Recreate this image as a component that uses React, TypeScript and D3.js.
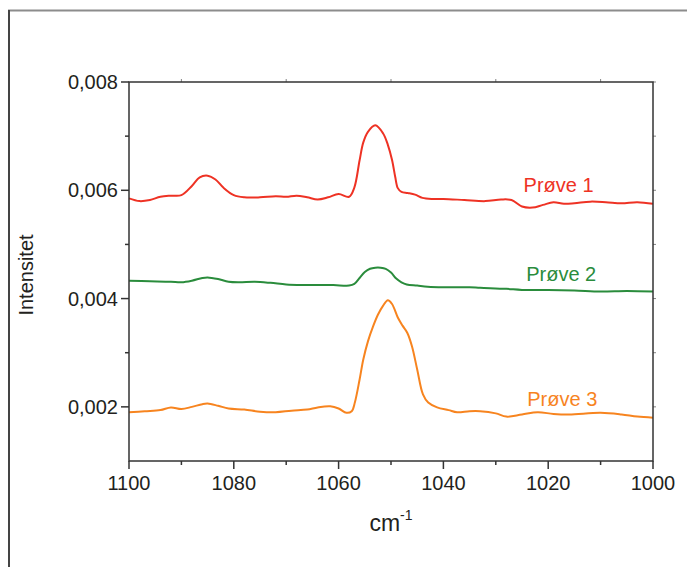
import React from "react";
import * as d3 from "d3";

const xTicks = [1100, 1080, 1060, 1040, 1020, 1000];
const xMinor = [1090, 1070, 1050, 1030, 1010];
const yTicks = [0.002, 0.004, 0.006, 0.008];
const yMinor = [0.003, 0.005, 0.007];
const yTickLabels = ["0,002", "0,004", "0,006", "0,008"];

const seriesNames = ["Prøve 1", "Prøve 2", "Prøve 3"];
const seriesColors = ["#ee3224", "#2a8c3c", "#f7841f"];

const p1Wave = [1100, 1098, 1096, 1094, 1092, 1090, 1088, 1086.5, 1085, 1083.5, 1082, 1080, 1078, 1075, 1072, 1070, 1068, 1066, 1064, 1062, 1060, 1058, 1057, 1056, 1055.3, 1054.4, 1053, 1051.5, 1050.6, 1049.8, 1049.2, 1048.7, 1048, 1046.8, 1045.4, 1044, 1042, 1040, 1036, 1032, 1029, 1027, 1025, 1023, 1021, 1019, 1017, 1015, 1012, 1009, 1006, 1003, 1000];
const p1Vals = [0.00585, 0.0058, 0.00582, 0.00588, 0.0059, 0.00591, 0.00608, 0.00624, 0.00627, 0.0062, 0.00605, 0.00591, 0.00587, 0.00587, 0.00589, 0.00588, 0.0059, 0.00587, 0.00583, 0.00587, 0.00593, 0.00588, 0.00605, 0.00655, 0.00688, 0.00708, 0.0072, 0.00705, 0.00684, 0.00656, 0.00625, 0.00604, 0.00597, 0.00595, 0.00592, 0.00586, 0.00584, 0.00584, 0.00582, 0.0058, 0.00583, 0.00582, 0.0057, 0.00568, 0.00573, 0.00578, 0.00575, 0.00576, 0.00579, 0.00578, 0.00576, 0.00578, 0.00575];

const p2Wave = [1100, 1096, 1092, 1090, 1088, 1086, 1085, 1083, 1081, 1079, 1076, 1073, 1070, 1067, 1064, 1061, 1058, 1057, 1056, 1055, 1054, 1053, 1052, 1051, 1050, 1049, 1048, 1047, 1045, 1043, 1040, 1035, 1033, 1028, 1025, 1020, 1015, 1010, 1005, 1000];
const p2Vals = [0.00433, 0.00432, 0.00431, 0.0043, 0.00433, 0.00438, 0.00439, 0.00436, 0.00431, 0.0043, 0.00431, 0.00429, 0.00426, 0.00425, 0.00425, 0.00425, 0.00424, 0.00427, 0.00438, 0.00449, 0.00455, 0.00457, 0.00457, 0.00455, 0.00448, 0.00437, 0.0043, 0.00426, 0.00424, 0.00422, 0.00421, 0.00421, 0.0042, 0.00418, 0.00416, 0.00416, 0.00415, 0.00413, 0.00414, 0.00413];

const p3Wave = [1100, 1097, 1094, 1092, 1090, 1088, 1086, 1085, 1083, 1081, 1078, 1075, 1072, 1069, 1066, 1064, 1061.6, 1060, 1058.5, 1057.5, 1056.9, 1056, 1055.3, 1054.4, 1053.4, 1052.5, 1051.5, 1050.6, 1049.8, 1048.7, 1047.8, 1046.9, 1046, 1045, 1043.9, 1042.9, 1041.2, 1039, 1037.4, 1035, 1033, 1030, 1028, 1025, 1022, 1019, 1016, 1010, 1006, 1003, 1000];
const p3Vals = [0.0019, 0.00192, 0.00194, 0.00199, 0.00196, 0.002, 0.00205, 0.00206, 0.00202, 0.00197, 0.00195, 0.00191, 0.0019, 0.00193, 0.00195, 0.00199, 0.00201, 0.00197, 0.00189, 0.00192, 0.00208, 0.0025, 0.00287, 0.00321, 0.00349, 0.0037, 0.00387, 0.00397, 0.0039, 0.00365, 0.0035, 0.00337, 0.00312, 0.00269, 0.00223, 0.00208, 0.00199, 0.00194, 0.0019, 0.00192, 0.00192, 0.00188, 0.00182, 0.00186, 0.0019, 0.00187, 0.00186, 0.00189, 0.00186, 0.00182, 0.0018];

const seriesWaves = [p1Wave, p2Wave, p3Wave];
const seriesVals = [p1Vals, p2Vals, p3Vals];
const labelAnchors = [
  { w: 1024.7, v: 0.00597 },
  { w: 1024.2, v: 0.004325 },
  { w: 1024.0, v: 0.002016 },
];

const W = 687;
const H = 567;
const L = 129, R = 653, T = 82, B = 461;
const FONT = "'Liberation Sans', Arial, Helvetica, sans-serif";
const AX = "#333333";
const TXT = "#231f20";

export default function App() {
  const x = d3.scaleLinear().domain([1100, 1000]).range([L, R]);
  const y = d3.scaleLinear().domain([0.001, 0.008]).range([B, T]);
  const line = d3
    .line<[number, number]>()
    .x((d) => x(d[0]))
    .y((d) => y(d[1]))
    .curve(d3.curveCatmullRom.alpha(0.5));

  return (
    <svg
      width={W}
      height={H}
      style={{ position: "absolute", left: 0, top: 0, background: "#fff" }}
      fontFamily={FONT}
    >
      <rect x={0} y={0} width={W} height={H} fill="#fff" />
      {/* outer frame */}
      <line x1={8} x2={W} y1={10.5} y2={10.5} stroke="#8c8c8c" strokeWidth={2} />
      <line x1={9} x2={9} y1={10} y2={H} stroke="#444" strokeWidth={2} />

      {/* series */}
      {seriesWaves.map((ws, i) => {
        const pts: [number, number][] = ws.map((w, j) => [w, seriesVals[i][j]]);
        return (
          <path
            key={i}
            d={line(pts) || ""}
            fill="none"
            stroke={seriesColors[i]}
            strokeWidth={2}
            strokeLinejoin="round"
          />
        );
      })}

      {/* axes box */}
      <rect x={L} y={T} width={R - L} height={B - T} fill="none" stroke={AX} strokeWidth={1.5} />

      {/* bottom ticks */}
      {xTicks.map((t) => (
        <g key={"xt" + t}>
          <line x1={x(t)} x2={x(t)} y1={B} y2={B + 8} stroke={AX} strokeWidth={1.5} />
          <text x={x(t)} y={489.5} textAnchor="middle" fontSize={20} fill={TXT}>
            {t}
          </text>
        </g>
      ))}
      {xMinor.map((t) => (
        <g key={"xm" + t}>
          <line x1={x(t)} x2={x(t)} y1={B} y2={B + 4} stroke={AX} strokeWidth={1.5} />
          <line x1={x(t)} x2={x(t)} y1={T} y2={T - 3} stroke={AX} strokeWidth={1} opacity={0.6} />
        </g>
      ))}

      {/* left ticks */}
      {yTicks.map((t, i) => (
        <g key={"yt" + t}>
          <line x1={L - 8} x2={L} y1={y(t)} y2={y(t)} stroke={AX} strokeWidth={1.5} />
          <text x={118} y={y(t)} dy="0.36em" textAnchor="end" fontSize={20} fill={TXT}>
            {yTickLabels[i]}
          </text>
        </g>
      ))}
      {yMinor.map((t) => (
        <g key={"ym" + t}>
          <line x1={L - 4} x2={L} y1={y(t)} y2={y(t)} stroke={AX} strokeWidth={1.5} />
          <line x1={R} x2={R + 3} y1={y(t)} y2={y(t)} stroke={AX} strokeWidth={1} opacity={0.6} />
        </g>
      ))}
      {yTicks.map((t) => (
        <line key={"yr" + t} x1={R} x2={R + 3} y1={y(t)} y2={y(t)} stroke={AX} strokeWidth={1} opacity={0.6} />
      ))}

      {/* axis titles */}
      <text x={391} y={531} textAnchor="middle" fontSize={23} fill={TXT}>
        cm
        <tspan fontSize={14} dy={-11}>
          -1
        </tspan>
      </text>
      <text
        transform="translate(33,275) rotate(-90)"
        textAnchor="middle"
        fontSize={20}
        fill={TXT}
      >
        Intensitet
      </text>

      {/* series labels */}
      {seriesNames.map((n, i) => (
        <text
          key={n}
          x={x(labelAnchors[i].w)}
          y={y(labelAnchors[i].v)}
          fontSize={20}
          fill={seriesColors[i]}
        >
          {n}
        </text>
      ))}
    </svg>
  );
}
